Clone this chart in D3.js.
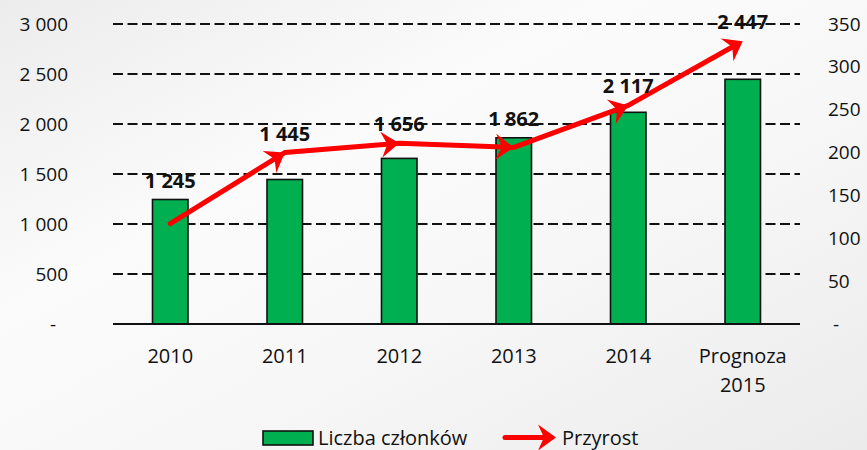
<!DOCTYPE html>
<html>
<head>
<meta charset="utf-8">
<script src="https://cdn.jsdelivr.net/npm/d3@7"></script>
<style>
  body { margin: 0; }
  svg { display: block; font-family: 'Open Sans', sans-serif; }
</style>
</head>
<body>
<div id="container"></div>
<script>
const categories = ['2010', '2011', '2012', '2013', '2014', 'Prognoza 2015'];
const members = [1245, 1445, 1656, 1862, 2117, 2447];
const growth = [117, 200, 211, 206, 255, 330];
const leftTicks = [0, 500, 1000, 1500, 2000, 2500, 3000];
const rightTicks = [0, 50, 100, 150, 200, 250, 300, 350];
const legendLabels = ['Liczba członków', 'Przyrost'];

const width = 867, height = 450;
const margin = { top: 24, right: 67, bottom: 126, left: 113 };

const svg = d3.select('#container').append('svg')
  .attr('width', width)
  .attr('height', height);

// background
const defs = svg.append('defs');
const bg = defs.append('linearGradient')
  .attr('id', 'bg')
  .attr('x1', '0').attr('y1', '0')
  .attr('x2', '1').attr('y2', '1');
bg.append('stop').attr('offset', '0').attr('stop-color', '#ececec');
bg.append('stop').attr('offset', '0.35').attr('stop-color', '#fbfbfb');
bg.append('stop').attr('offset', '0.6').attr('stop-color', '#f7f7f7');
bg.append('stop').attr('offset', '1').attr('stop-color', '#ebebeb');
svg.append('rect')
  .attr('width', width)
  .attr('height', height)
  .attr('fill', 'url(#bg)');

const plotW = width - margin.left - margin.right;
const plotH = height - margin.top - margin.bottom;

const x = d3.scaleBand()
  .domain(categories)
  .range([margin.left, margin.left + plotW])
  .paddingInner(0.69)
  .paddingOuter(0.345);

const yLeft = d3.scaleLinear()
  .domain([0, 3000])
  .range([margin.top + plotH, margin.top]);

const yRight = d3.scaleLinear()
  .domain([0, 350])
  .range([margin.top + plotH, margin.top]);

const fmt = (v) => v === 0 ? '-' : d3.format(',')(v).replace(/,/g, ' ');

// gridlines
svg.append('g')
  .selectAll('line')
  .data(leftTicks.filter((d) => d > 0))
  .enter()
  .append('line')
  .attr('x1', margin.left)
  .attr('x2', margin.left + plotW)
  .attr('y1', (d) => yLeft(d))
  .attr('y2', (d) => yLeft(d))
  .attr('stroke', '#111')
  .attr('stroke-width', 1.8)
  .attr('stroke-dasharray', '10,4.5');

// left axis
const leftAxis = svg.append('g')
  .attr('transform', `translate(${margin.left - 45},0)`)
  .call(d3.axisLeft(yLeft).tickValues(leftTicks).tickFormat(fmt).tickSize(0).tickPadding(0));
leftAxis.select('.domain').remove();
leftAxis.selectAll('text')
  .attr('font-size', 19)
  .attr('font-family', "'Open Sans', sans-serif")
  .attr('fill', '#111')
  .attr('dx', (d) => d === 0 ? -12 : 0);

// right axis
const rightAxis = svg.append('g')
  .attr('transform', `translate(${margin.left + plotW + 28},0)`)
  .call(d3.axisRight(yRight).tickValues(rightTicks).tickFormat(fmt).tickSize(0).tickPadding(0));
rightAxis.select('.domain').remove();
rightAxis.selectAll('text')
  .attr('font-size', 19)
  .attr('font-family', "'Open Sans', sans-serif")
  .attr('fill', '#111')
  .attr('dx', (d) => d === 0 ? 5 : 0);

// bars
svg.append('g')
  .selectAll('rect')
  .data(members)
  .enter()
  .append('rect')
  .attr('x', (d, i) => x(categories[i]))
  .attr('y', (d) => yLeft(d))
  .attr('width', x.bandwidth())
  .attr('height', (d) => yLeft(0) - yLeft(d))
  .attr('fill', '#00b050')
  .attr('stroke', '#111')
  .attr('stroke-width', 1.6);

// baseline
svg.append('line')
  .attr('x1', margin.left)
  .attr('x2', margin.left + plotW)
  .attr('y1', yLeft(0))
  .attr('y2', yLeft(0))
  .attr('stroke', '#111')
  .attr('stroke-width', 1.8);

// category labels
const xLabels = svg.append('g')
  .selectAll('text')
  .data(categories)
  .enter()
  .append('text')
  .attr('text-anchor', 'middle')
  .attr('font-size', 20)
  .attr('fill', '#111')
  .attr('x', (d) => x(d) + x.bandwidth() / 2)
  .attr('y', yLeft(0) + 39);
xLabels.each(function(d) {
  const words = d.split(' ');
  d3.select(this).selectAll('tspan')
    .data(words)
    .enter()
    .append('tspan')
    .attr('x', x(d) + x.bandwidth() / 2)
    .attr('dy', (w, i) => i === 0 ? 0 : 29)
    .text((w) => w);
});

// growth line with arrowheads
const pts = growth.map((g, i) => [x(categories[i]) + x.bandwidth() / 2, yRight(g)]);
const arrowPath = 'M0,0 L-18,-13 L-12,0 L-18,13 Z';

const last = pts[pts.length - 1], prev = pts[pts.length - 2];
const ang = Math.atan2(last[1] - prev[1], last[0] - prev[0]);
const linePts = pts.slice(0, -1).concat([[last[0] - 10 * Math.cos(ang), last[1] - 10 * Math.sin(ang)]]);

svg.append('path')
  .datum(linePts)
  .attr('d', d3.line())
  .attr('fill', 'none')
  .attr('stroke', '#ff0000')
  .attr('stroke-width', 5)
  .attr('stroke-linejoin', 'round')
  .attr('stroke-linecap', 'round');

svg.append('g')
  .selectAll('path')
  .data(pts.slice(1))
  .enter()
  .append('path')
  .attr('d', arrowPath)
  .attr('fill', '#ff0000')
  .attr('transform', (d, i) => {
    const a = Math.atan2(d[1] - pts[i][1], d[0] - pts[i][0]) * 180 / Math.PI;
    return `translate(${d[0]},${d[1]}) rotate(${a})`;
  });

// data labels
svg.append('g')
  .selectAll('text')
  .data(members)
  .enter()
  .append('text')
  .attr('text-anchor', 'middle')
  .attr('font-size', 20)
  .attr('font-weight', 'bold')
  .attr('fill', '#111')
  .attr('x', (d, i) => x(categories[i]) + x.bandwidth() / 2)
  .attr('y', (d, i) => Math.min(yLeft(d), pts[i][1]) - 12)
  .text((d) => fmt(d));

// legend
const legend = svg.append('g');
legend.append('rect')
  .attr('x', 263)
  .attr('y', 431)
  .attr('width', 50)
  .attr('height', 14)
  .attr('fill', '#00b050')
  .attr('stroke', '#111')
  .attr('stroke-width', 1.6);
legend.append('text')
  .attr('x', 318)
  .attr('y', 445)
  .attr('font-size', 20)
  .attr('fill', '#111')
  .text(legendLabels[0]);
legend.append('line')
  .attr('x1', 505)
  .attr('x2', 545)
  .attr('y1', 437.5)
  .attr('y2', 437.5)
  .attr('stroke', '#ff0000')
  .attr('stroke-width', 5)
  .attr('stroke-linecap', 'round');
legend.append('path')
  .attr('d', arrowPath)
  .attr('fill', '#ff0000')
  .attr('transform', 'translate(556,437.5)');
legend.append('text')
  .attr('x', 562)
  .attr('y', 445)
  .attr('font-size', 20)
  .attr('fill', '#111')
  .text(legendLabels[1]);
</script>
</body>
</html>
